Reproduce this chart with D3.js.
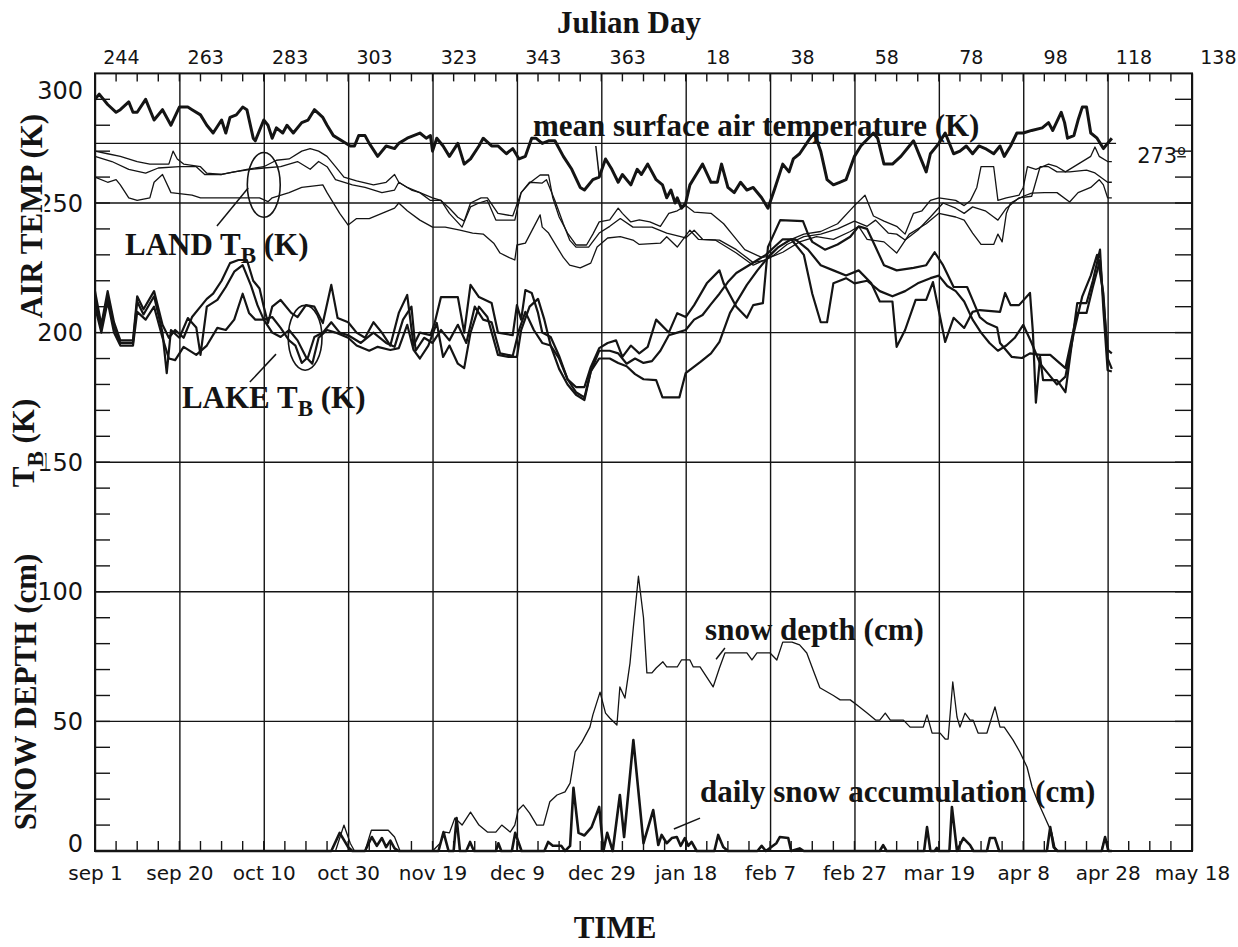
<!DOCTYPE html>
<html>
<head>
<meta charset="utf-8">
<script src="https://cdn.jsdelivr.net/npm/d3@7"></script>
<style>
  body { margin: 0; background: #fff; }
  text { fill: #141414; }
  .num { font-family: "DejaVu Sans", sans-serif; }
  .label { font-family: "Liberation Serif", "Times New Roman", serif; font-weight: bold; }
  .axis path { display: none; }
</style>
</head>
<body>
<div id="chart"></div>
<script>
// days since sep 1 on x, K or cm on y
const dateLabels = ["sep 1", "sep 20", "oct 10", "oct 30", "nov 19", "dec 9", "dec 29", "jan 18", "feb 7", "feb 27", "mar 19", "apr 8", "apr 28", "may 18"];
const julianLabels = ["244", "263", "283", "303", "323", "343", "363", "18", "38", "58", "78", "98", "118", "138"];
const yLabels = [0, 50, 100, 150, 200, 250, 300];
const gridValues = [50, 100, 150, 200, 250];
const freezeLine = 273;

const airTemp = [[0,290],[1,292],[3,288],[5,285],[6,286],[8,289],[9,285],[10,285],[12,290],[14,282],[16,286],[18,280],[20,287],[22,287],[23,286],[25,284],[26.5,280],[28,277],[30,282],[31,277],[32,283],[33.5,284],[35,287],[36,286],[37.5,275],[38,274],[40,282],[41,280],[42,275],[43,279],[44.5,277],[45.5,280],[47,277],[49,281],[50.5,282],[52,286],[54,283],[55,280],[56.5,276],[58.5,274],[60.5,272],[61.5,272],[62.5,276],[64,276],[65,273],[67,268],[69,272],[71,271],[72,273],[74,275],[75.5,276],[77,277],[78.5,275],[79.5,276],[80,270],[81,275],[82.5,272],[84,268],[86,273],[87.5,265],[89,267],[91,272],[92,275],[94,272],[95.5,272],[97.5,269],[99,271],[100.5,267],[102,268],[103.5,275],[104.5,275],[106,273],[107.5,274],[109,274],[111,268],[113,263],[115,256],[116,255],[118,259],[119.5,260],[121,267],[122.5,263],[124,258],[125,261],[127,257],[128.5,263],[129.5,261],[131,265],[133,259],[134.5,257],[135.5,252],[136.5,255],[137.5,250],[138,252],[139,248],[140,250],[141,257],[142.5,261],[144,265],[146,258],[147.5,258],[148.5,265],[150,256],[151.5,254],[153,258],[154.5,255],[156,256],[158,252],[159.5,248],[161,255],[163,265],[164.5,262],[165.5,267],[167,269],[169.5,275],[170.5,277],[172,270],[173.5,259],[175,257],[176.5,258],[178,259],[180,268],[181.5,272],[184.5,277],[185.5,275],[187,265],[189,265],[191,268],[193,272],[194,274],[195.5,268],[197,262],[198,269],[200,273],[201.5,277],[203.5,269],[205,270],[206.5,272],[208,269],[209.5,272],[211,271],[213,269],[214.5,272],[215.5,268],[217,272],[218.5,277],[220,277],[222,278],[224.5,279],[226,281],[227,278],[229,285],[229.8,281],[230.5,275],[232,276],[233,282],[234,287],[235,287],[236,277],[237.5,275],[239,271],[240,273],[241,275]];

const landTb1 = [[0,270],[3,269],[6,268],[10,266],[13,265],[17.5,265],[18.5,270],[19.5,267],[21,265],[25,264],[26.5,261.5],[30,261],[33,262],[36,263],[40,264],[43,266.5],[46,267],[49,270],[51,271],[53,270],[55,268],[57,264],[59,260],[62,258.5],[66,257],[69,258],[71,261],[72,258],[75,255],[77,254],[80,252],[82,251],[84,248],[86,244.5],[87.5,243],[89,250],[91.5,252],[93,252],[95.5,246],[99,245],[101,254],[103,257.7],[105.5,260.8],[107.5,260.8],[108.5,252],[110,244.6],[112,238.4],[114,233.8],[116.5,233.8],[118,238],[119.5,242.7],[122,243.5],[124,248],[125,246],[127,242.7],[129,243.5],[131.5,242.7],[134,241],[136,246],[138,247],[140,249],[142,246.5],[146,246],[149,242],[151,238],[154,232],[158,229],[160,229.5],[162,233],[165,236],[168,238],[172,239],[176,242],[180,249],[182.5,253],[184.5,245],[187,243],[190,241],[192,238],[194,246],[196,247],[198,251],[200,252],[204,251],[206,249],[207.5,251],[209,256],[210,264],[213,264],[214,251],[216,252],[219,253],[220,256],[221,264],[223,263],[226,265],[228,264],[230,262],[233,265],[236,268],[237,271.6],[238,268],[240,266],[241,266]];

const landTb2 = [[0,268],[4,266],[8,263],[12,261.5],[15,263.5],[20,264],[24,264],[26,261],[30,261],[33,262],[37,263],[40,263.5],[44,264],[48,266],[51,263],[53,266],[55,264],[57,259],[61,257],[64,256],[68,254],[71,255],[72,258],[74,256],[77,254],[79.5,251],[82,251],[84,246],[87,240.7],[89,248.5],[91,250],[93,251],[95,243.4],[99.5,243.4],[101,254],[103,258],[106,257.7],[107,259],[109,251],[111,242],[112.5,235.7],[114,233],[117,233],[119.5,238.4],[122,241],[124.5,244],[127.5,240.7],[132,240.7],[135.5,238.4],[140,236.5],[142,239.5],[144,236],[148,235.7],[152,232],[156,227],[159,228],[161,230],[164,234],[168,237],[172,238],[176,240],[180,243],[183,241],[185,243.4],[188,238.4],[190,238],[192,235.7],[195,239.5],[198,244.6],[201,250],[204,248],[206,246],[208,248.5],[211,247],[213,244.6],[214,243.4],[216,248],[219,252],[222,252.6],[224,264],[226,264],[228,262],[231,262],[235,262.7],[237,261.6],[240,258],[241,258]];

const landTb3 = [[0,260],[3,258],[5,259],[6,257],[8,252],[10,251],[13,252],[14,258],[16,261],[18,254],[23,253],[25,252],[30,252],[36,252],[39,252],[41,250.5],[42,252],[46,254],[49,256],[54,257],[55,254],[58,246],[60,241.5],[62,244],[65,244],[68,246],[71,248],[72,250],[74,247],[77,243.4],[80,240.7],[83,240.7],[86.5,239.5],[89.5,238.4],[92,238],[94.5,234.5],[96,230.7],[98.5,228.7],[99.5,228],[100,233.8],[102,234.5],[105.5,245.4],[106,240.7],[107.5,238.4],[109.5,233],[111,229],[112.5,226],[115,225],[117.5,226.8],[119,233],[121.5,236.5],[124.5,237],[127.5,235.7],[129,234],[134,234.5],[135.5,237],[138,233],[141,239.5],[143,236],[147,235.7],[152,230.7],[156,226],[160,229],[163,231],[167,235],[171,237],[175,236],[179,239],[181,241],[183,236],[187,235],[190,230.7],[193,238],[197,242],[200,246],[204,244.6],[206,243.4],[208,238.4],[210,234],[213,234],[214,238],[215,235],[216,246],[217,250],[220,252.6],[222,253.8],[225,254],[228,254],[231,250.4],[233,254],[236,256],[238,259],[239,257],[240,252],[241,252]];

const lakeTb1 = [[0,216],[1.5,203],[3,216],[4.5,204],[6,197],[9,197],[10,214],[11.5,209],[14,216],[16,203],[17.5,198],[19,201],[21,198],[23,206],[25,210],[26.5,213],[28,215],[30,220],[32,226.8],[34,228],[36,228],[37.5,220],[39,217],[40,210],[41,203.7],[42,210],[44,212.6],[46.5,207.6],[48,206],[50,210.6],[52,210],[54,203.7],[56,218.4],[57.5,205.6],[60,204],[62,200],[64,198],[66,204],[68,200],[70,195],[72,207.6],[74,214.5],[75.5,195],[77,200],[79.5,199],[80.5,203.7],[82,213.7],[86,213.7],[87.5,200],[89,218.4],[91,213.7],[94,211.4],[95.5,200],[99,199],[100,210.6],[101,205],[102,216.4],[103.5,215.3],[105,207.6],[106,200],[108,198.3],[110,191],[112,182],[114,179],[116,179],[117.5,186.7],[119.5,194],[121.5,196],[123.5,197],[125,190.6],[127,195],[129,192],[131,194.5],[133,205],[136,200],[138,207.5],[140,206],[142,210.6],[145,219],[148,224],[149,219],[152,210],[154.5,205.7],[156,210.6],[158.3,211.4],[159.5,233],[162.4,243.4],[167.8,243],[169,238],[170,235],[173,232],[176,234],[179,237],[181,241],[183,240],[185,233],[187,226],[190,224],[194,225],[197,226],[199,231],[201,226],[203.5,217.6],[206.7,217.6],[208,212.6],[209.7,206],[211.4,203.7],[213.8,202],[214.5,196],[217.3,190.6],[219.7,190.2],[221.6,192],[224,191.4],[226.4,191.4],[230,186.3],[232.8,207.6],[235,207.6],[236.5,217.6],[238.2,228],[240,193.3],[241,192]];

const lakeTb2 = [[0,213],[1.5,202],[3,214],[4.5,202],[6,196],[9,196],[10,212],[11.5,207],[14,214],[16,200],[17,184.4],[18,201],[20,198],[22,205.6],[24,202],[25,191.4],[26.5,210],[29,212.6],[31,217.6],[33,223.5],[35,226],[37,218],[38.5,210.6],[40,205],[42,206],[44,201.8],[46,197],[47.5,195],[49,188.3],[50.5,190.6],[52,198.3],[54,200],[56,204],[58,200],[60,199],[63,196],[66,200],[69,196],[71,194.5],[73,205],[75,210],[76,193],[78,198],[80,196],[82,201],[84,197],[86,203],[88,196],[90,210],[92,205],[94,204],[96,192],[99,191],[100.5,201],[102,208],[104,201],[106,196],[108,195],[110,190],[112,182],[114,177],[116,175],[117.5,185],[119.5,193],[122,193],[124,192],[126,188],[128,190],[130,188.3],[132,189],[134,193],[136,199],[138,200],[140,201],[142,205],[144,206.8],[146,211],[148,215],[150,219.5],[152,223],[155,226],[157,228],[159,230],[161,233],[163,236],[166,236],[169,232],[172,226],[175,224],[178,222],[181,224],[184,219],[186,212],[189,212],[190,194.5],[192,201],[194.5,212.6],[197,212.6],[198.6,219.5],[201.5,196.4],[203.5,205.7],[206,201.8],[208,208],[209.7,208.7],[214.5,208],[215.7,215.3],[217,210.6],[219,210.6],[221.6,215.3],[222.3,200],[223,173],[224,190.6],[224.7,181.7],[228,181.7],[230,177],[231,189.4],[232.8,211.4],[235,211.4],[236.5,220],[238.2,232],[239,208.7],[240,185.5],[241,185]];

const lakeTb3 = [[0,210],[1.5,200],[3,212],[4.5,200],[6,195],[9,195],[10,208],[12,205],[14,210],[16,198],[17.5,190],[19,189.4],[21,194.5],[24,191.4],[26.5,195],[29,201.8],[31,201],[33,205],[35,215],[36.5,207.6],[38,205],[40,205],[42,200],[44,198.3],[46,201],[48,197],[50,190.6],[51.5,188],[53,198],[55,201],[57,200],[60,198],[62,195],[65,193],[67,194.5],[70,193.3],[72,194],[74,203],[75.5,193.3],[77,190],[79,195],[81,203.7],[82.5,190.6],[84,195],[86,188],[87.5,186.3],[89,200],[91,210],[93,206],[95.5,191.4],[98,190.6],[100,190.6],[101,201],[103,210],[105,213],[106.5,205],[108,195],[110,186],[112,180],[114,176],[116,174],[117.5,185],[119.5,190],[122,190],[124,188.3],[126,187],[128,184],[130,182],[133,181.7],[134.5,175],[138.5,175],[140,184.4],[143.5,188.7],[146,192],[148,196.4],[150.5,207.6],[154.5,218.4],[157,224],[160,230],[162,233],[165,236],[168,230],[170,215],[172,204],[173.5,204],[175,219],[178,221],[180,219],[183,220],[186,216],[189,214],[192,216],[195,219],[198,221],[200,222],[202,218],[204,216],[206,212],[208,205],[210,200],[212,196],[214,193],[216,195],[218,198],[220,203],[222,196],[224,188],[226,184],[228,180],[230,183],[232,200],[234,214],[236,222],[237.5,230],[239,215],[240,190],[241,186]];

const snowDepth = [[0,0],[57,0],[58,5],[59,10],[60.5,3],[61.5,0],[64,0],[65.5,8],[69.5,8],[71,5.4],[72.3,0],[80,0],[81.8,3],[83,7.3],[84,7],[85.3,12.7],[87,10],[89,15],[91,10],[93,7.3],[95,7.3],[96.4,10],[98.4,7.3],[99.5,10],[100.3,15.8],[101.5,17.8],[103,14.6],[104.7,10],[106.3,10],[107.8,19],[109.5,21.6],[111.4,22.8],[112.6,26.2],[113.8,38.2],[115.4,42],[117.3,47.8],[118,52.5],[119.7,61.3],[121,53.2],[122,51.3],[123.7,48.6],[124.4,63.3],[125.6,59],[126.8,72.5],[127.6,86.4],[128.8,106],[130,90],[130.8,68.7],[132,68.7],[133,70.6],[134.6,73],[135.5,71],[138,71],[139,73.7],[141,73.7],[141.8,71],[143.4,71],[146.5,63.3],[148,70.6],[149.3,76.4],[154.5,76.4],[155.7,73.7],[156.9,76.4],[160,76.4],[161.6,73.7],[163,80.6],[165.2,80.6],[167,79.5],[168.7,76.4],[170.2,69.8],[171.8,63],[175,60],[176.6,58.3],[179,58.3],[180.6,56.3],[183,53.2],[185,50.5],[186,50.5],[187.3,53.2],[188.5,50.5],[191.6,50.5],[193.2,47.8],[196.3,47.8],[197.2,52.5],[198.4,45.5],[200.3,45.5],[201.5,43.2],[202.2,43.2],[203.3,65.2],[204.3,51.7],[205,47.8],[206.2,53.2],[207.4,50.5],[208.1,50.5],[209.3,45.5],[211.4,45.5],[213.3,55.6],[214.5,47.8],[215.5,47.8],[217.6,42.8],[219.2,38.2],[220.9,32.4],[222.1,24.7],[223.5,18.9],[225.2,12.7],[226.8,6.9],[227.5,1.5],[228.3,0],[238.5,0],[239.4,5.4],[240.2,0],[241,0]];

const snowAccum = [[0,0],[56,0],[58,7],[60,1.5],[61,0],[64,0],[65.6,5.4],[66.8,2],[68,5],[69,1.5],[70,4],[71,1],[72,0],[81.4,0],[82.6,7.3],[83.8,0],[85,0],[85.7,12.7],[86.5,0],[88,0],[88.9,3.5],[89.8,0],[95,0],[95.6,3],[96.3,0],[98.8,0],[99.6,7],[101.1,0],[106.5,0],[107.4,3.5],[108.5,2],[110.5,2],[111.4,0],[112.6,2],[113.4,24.4],[114.6,7],[116,6],[117.7,9.2],[119.5,17],[120.5,0],[121.4,7],[122.7,0],[124.4,21.6],[125.4,5.4],[127.6,42.8],[130,3],[132.3,15.8],[133.5,2.3],[134.3,6.2],[135.5,3],[136.7,5],[137.9,5.4],[138.8,2],[139.8,5],[140.6,2],[141.4,3.5],[142.6,0],[146.8,0],[147.7,6.2],[148.9,1.5],[150,0],[157,0],[158,2],[159,0],[161.5,3],[162.3,5.4],[164.3,5],[165,0],[167,1],[168,0],[186,0],[186.8,2.3],[187.6,0],[196.5,0],[197.2,9.2],[198,0],[199,0],[199.5,1.2],[200,0],[202.5,0],[203.1,17],[204.3,0],[205.8,5],[207.4,2.3],[208.2,0],[211.4,0],[212.1,5],[213.3,5],[214.3,0],[225.6,0],[226.4,9.2],[227.2,1.5],[228,0],[238.6,0],[239.4,5.4],[240.2,0],[241,0]];

const width = 1238;
const height = 947;
const margin = {top: 73.4, right: 46, bottom: 96, left: 95};
const plotW = width - margin.left - margin.right;
const plotH = height - margin.top - margin.bottom;
const ink = "#141414";

const x = d3.scaleLinear().domain([0, 260]).range([margin.left, margin.left + plotW]);
const y = d3.scaleLinear().domain([0, 300]).range([margin.top + plotH, margin.top]);

const svg = d3.select("#chart")
  .append("svg")
  .attr("width", width)
  .attr("height", height);

// vertical grid + date labels
const xTicks = d3.range(0, 261, 20);
svg.append("g")
  .attr("class", "axis num")
  .attr("transform", `translate(0,${y(0)})`)
  .call(d3.axisBottom(x).tickValues(xTicks).tickSize(-plotH).tickPadding(15)
    .tickFormat((d, i) => dateLabels[i]))
  .call(g => g.selectAll("line").attr("stroke", ink).attr("stroke-width", 1.4))
  .call(g => g.selectAll("text").attr("font-size", 20).attr("fill", ink));

// julian day labels (sit right of their grid line, as in the original)
svg.append("g")
  .attr("class", "axis num")
  .attr("transform", `translate(0,${y(300)})`)
  .call(d3.axisTop(x).tickValues(xTicks).tickSize(0).tickPadding(9)
    .tickFormat((d, i) => julianLabels[i]))
  .call(g => g.selectAll("text").attr("font-size", 19).attr("text-anchor", "end").attr("dx", 44).attr("fill", ink));

// minor ticks top and bottom
const minorX = d3.range(0, 261, 5);
svg.append("g").selectAll("line")
  .data(minorX).enter().append("line")
  .attr("x1", d => x(d)).attr("x2", d => x(d))
  .attr("y1", y(300)).attr("y2", y(300) + 8)
  .attr("stroke", ink).attr("stroke-width", 1.4);
svg.append("g").selectAll("line")
  .data(minorX).enter().append("line")
  .attr("x1", d => x(d)).attr("x2", d => x(d))
  .attr("y1", y(0)).attr("y2", y(0) - 10)
  .attr("stroke", ink).attr("stroke-width", 1.4);

// minor ticks left and right
const minorY = d3.range(10, 300, 10);
svg.append("g").selectAll("line")
  .data(minorY).enter().append("line")
  .attr("x1", x(0)).attr("x2", x(0) + 15)
  .attr("y1", d => y(d)).attr("y2", d => y(d))
  .attr("stroke", ink).attr("stroke-width", 1.4);
svg.append("g").selectAll("line")
  .data(minorY).enter().append("line")
  .attr("x1", x(260)).attr("x2", x(260) - 17)
  .attr("y1", d => y(d)).attr("y2", d => y(d))
  .attr("stroke", ink).attr("stroke-width", 1.4);

// horizontal grid lines
svg.append("g").selectAll("line")
  .data(gridValues).enter().append("line")
  .attr("x1", x(0)).attr("x2", x(260))
  .attr("y1", d => y(d)).attr("y2", d => y(d))
  .attr("stroke", ink).attr("stroke-width", 1.4);

svg.append("line")
  .attr("x1", x(0)).attr("x2", x(242))
  .attr("y1", y(freezeLine)).attr("y2", y(freezeLine))
  .attr("stroke", ink).attr("stroke-width", 1.4);

// left value labels
svg.append("g").attr("class", "num")
  .selectAll("text")
  .data(yLabels).enter().append("text")
  .attr("x", x(0) - 12)
  .attr("y", d => y(d))
  .attr("dy", d => d === 300 ? "1.05em" : d === 0 ? "0.05em" : "0.36em")
  .attr("text-anchor", "end")
  .attr("font-size", 24)
  .text(d => d);

const freezeLabel = svg.append("text")
  .attr("class", "num")
  .attr("x", x(247))
  .attr("y", y(265.4))
  .attr("font-size", 21);
freezeLabel.append("tspan").text(freezeLine);
freezeLabel.append("tspan").text("o").attr("font-size", 14).attr("dy", -8)
  .attr("text-decoration", "underline");

// frame
svg.append("rect")
  .attr("x", x(0)).attr("y", y(300))
  .attr("width", plotW).attr("height", plotH)
  .attr("fill", "none").attr("stroke", ink).attr("stroke-width", 2);

// data lines
const line = d3.line().x(d => x(d[0])).y(d => y(d[1]));

const series = [
  {data: landTb1, w: 1.3},
  {data: landTb2, w: 1.3},
  {data: landTb3, w: 1.3},
  {data: lakeTb1, w: 2.2},
  {data: lakeTb2, w: 2.2},
  {data: lakeTb3, w: 2.2},
  {data: snowDepth, w: 1.3},
  {data: snowAccum, w: 2.6},
  {data: airTemp, w: 3}
];

svg.append("g").selectAll("path")
  .data(series).enter().append("path")
  .attr("d", d => line(d.data))
  .attr("fill", "none")
  .attr("stroke", ink)
  .attr("stroke-width", d => d.w)
  .attr("stroke-linejoin", "round");

// annotations
const note = (d, v, parts) => {
  const t = svg.append("text").attr("class", "label")
    .attr("x", x(d)).attr("y", y(v)).attr("font-size", 31);
  parts.forEach(p => {
    const s = t.append("tspan").text(p.text);
    if (p.sub) s.attr("font-size", 23).attr("dy", 8);
    if (p.back) s.attr("dy", -8);
  });
  return t;
};

note(103.8, 275.8, [{text: "mean surface air temperature (K)"}]);
note(7.1, 229.9, [{text: "LAND T"}, {text: "B", sub: true}, {text: " (K)", back: true}]);
note(20.6, 170.9, [{text: "LAKE T"}, {text: "B", sub: true}, {text: " (K)", back: true}]);
note(144.6, 81.4, [{text: "snow depth (cm)"}]);
note(143.4, 18.9, [{text: "daily snow accumulation (cm)"}]);

const leaders = [
  [[28.9, 241.1], [36.3, 255.8]],
  [[36.7, 180.9], [42.9, 191.7]],
  [[147.2, 74], [149.3, 78.3]],
  [[137.2, 8.5], [143.4, 12.7]],
  [[118.7, 272], [119.5, 260.4]]
];
svg.append("g").selectAll("path")
  .data(leaders).enter().append("path")
  .attr("d", d => line(d))
  .attr("stroke", ink).attr("stroke-width", 1.5);

const rings = [
  {c: [40, 257], rx: 3.9, ry: 12.5},
  {c: [49.8, 198], rx: 4, ry: 12.5}
];
svg.append("g").selectAll("ellipse")
  .data(rings).enter().append("ellipse")
  .attr("cx", d => x(d.c[0]))
  .attr("cy", d => y(d.c[1]))
  .attr("rx", d => x(d.rx) - x(0))
  .attr("ry", d => y(0) - y(d.ry))
  .attr("fill", "none").attr("stroke", ink).attr("stroke-width", 1.6);

// titles
svg.append("text").attr("class", "label")
  .attr("x", 629).attr("y", 33)
  .attr("text-anchor", "middle").attr("font-size", 31)
  .text("Julian Day");

svg.append("text").attr("class", "label")
  .attr("x", 615).attr("y", 938)
  .attr("text-anchor", "middle").attr("font-size", 31)
  .text("TIME");

const sideTitle = (cx, cy, parts) => {
  const t = svg.append("text").attr("class", "label")
    .attr("transform", `translate(${cx},${cy}) rotate(-90)`)
    .attr("text-anchor", "middle").attr("font-size", 31)
    .attr("stroke", "#fff").attr("stroke-width", 5)
    .attr("paint-order", "stroke");
  parts.forEach(p => {
    const s = t.append("tspan").text(p.text);
    if (p.sub) s.attr("font-size", 23).attr("dy", 9);
    if (p.back) s.attr("dy", -9);
  });
};

sideTitle(42, 216, [{text: "AIR TEMP (K)"}]);
sideTitle(34, 443, [{text: "T"}, {text: "B", sub: true}, {text: " (K)", back: true}]);
sideTitle(36, 692, [{text: "SNOW DEPTH (cm)"}]);
</script>
</body>
</html>
